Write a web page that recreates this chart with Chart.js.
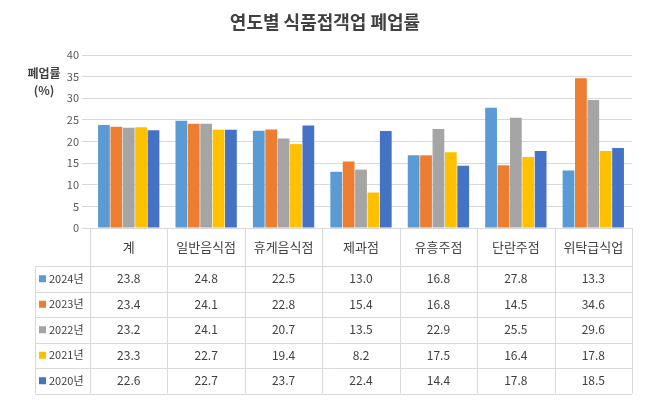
<!DOCTYPE html>
<html><head><meta charset="utf-8">
<script src="https://cdn.jsdelivr.net/npm/chart.js@4/dist/chart.umd.min.js"></script>
<style>body{margin:0;background:#fff}#w{width:651px;height:413px}</style>
</head><body><div id="w"><canvas id="c"></canvas></div>
<script>
const categories=['계','일반음식점','휴게음식점','제과점','유흥주점','단란주점','위탁급식업'];
const seriesNames=['2024년','2023년','2022년','2021년','2020년'];
const colors=['#5B9BD5','#ED7D31','#A5A5A5','#FFC000','#4472C4'];
const v2024=[23.8,24.8,22.5,13.0,16.8,27.8,13.3];
const v2023=[23.4,24.1,22.8,15.4,16.8,14.5,34.6];
const v2022=[23.2,24.1,20.7,13.5,22.9,25.5,29.6];
const v2021=[23.3,22.7,19.4,8.2,17.5,16.4,17.8];
const v2020=[22.6,22.7,23.7,22.4,14.4,17.8,18.5];
const series=[v2024,v2023,v2022,v2021,v2020];
const F='"Noto Sans CJK KR","Noto Sans",sans-serif';
const tablePlugin={id:'tbl',afterDraw(ch){
 const c=ch.ctx,x=ch.scales.x,a=ch.chartArea;
 const top=a.bottom,hdrB=top+38,rh=25.5,L=35,R=a.right;
 c.save();c.strokeStyle='#d9d9d9';c.lineWidth=1;
 const n=categories.length,w=(R-a.left)/n;
 c.beginPath();
 for(let i=0;i<=n;i++){const xx=Math.round(a.left+i*w)+0.5;c.moveTo(xx,top);c.lineTo(xx,hdrB+rh*5);}
 c.moveTo(L+0.5,hdrB);c.lineTo(L+0.5,hdrB+rh*5);
 for(let r=0;r<=5;r++){const yy=Math.round(hdrB+r*rh)+0.5;c.moveTo(L,yy);c.lineTo(R,yy);}
 c.stroke();
 c.fillStyle='#404040';c.textAlign='center';c.textBaseline='middle';
 c.font='13px '+F;
 categories.forEach((k,i)=>c.fillText(k,x.getPixelForValue(i),top+19));
 c.font='12px '+F;
 series.forEach((s,r)=>{const yy=hdrB+r*rh+rh/2;
  s.forEach((v,i)=>c.fillText(v.toFixed(1),x.getPixelForValue(i),yy));
  c.fillStyle=colors[r];c.fillRect(39,yy-3.5,7,7);c.fillStyle='#404040';
  c.textAlign='left';c.font='11px '+F;c.fillText(seriesNames[r],49,yy);c.textAlign='center';c.font='12px '+F;});
 c.font='bold 18px '+F;c.fillStyle='#404040';c.fillText('연도별 식품접객업 폐업률',325,22);
 c.font='bold 12px '+F;c.fillText('폐업률',44,73);c.fillText('(%)',44,90);
 c.restore();}};
new Chart(document.getElementById('c'),{type:'bar',
 data:{labels:categories,datasets:series.map((s,i)=>({label:seriesNames[i],data:s,backgroundColor:colors[i],categoryPercentage:0.8,barPercentage:0.95}))},
 options:{responsive:true,maintainAspectRatio:false,animation:false,
  layout:{padding:{left:40,right:19,top:55,bottom:185}},
  plugins:{legend:{display:false},tooltip:{enabled:false}},
  scales:{x:{ticks:{display:false},grid:{display:false},border:{color:'#d9d9d9'},afterFit:s=>{s.height=0}},
   y:{min:0,max:40,ticks:{stepSize:5,color:'#595959',font:{size:11,family:F}},grid:{color:'#d9d9d9'},border:{display:false},afterFit:s=>{s.width=50}}}},
 plugins:[tablePlugin]});
</script></body></html>
